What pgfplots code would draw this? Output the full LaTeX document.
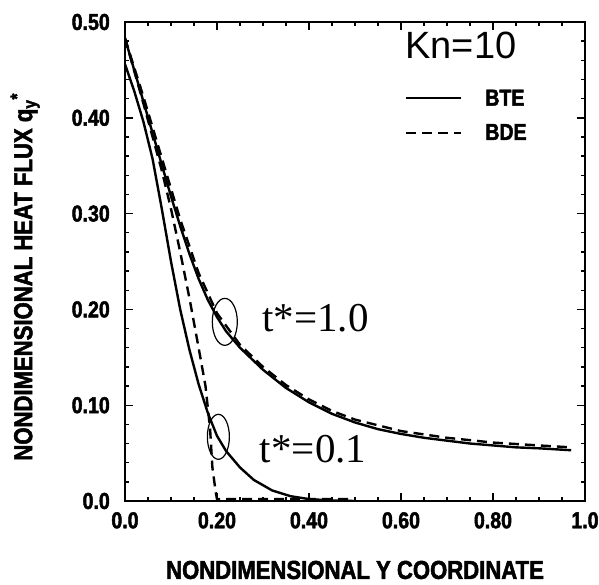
\documentclass[border=0pt]{standalone}
\usepackage{pgfplots}
\pgfplotsset{compat=1.18}
\usepackage{fontspec}
\setmainfont{Liberation Sans}
\newfontfamily\cond[FakeStretch=0.85, BoldFeatures={FakeBold=2}]{Liberation Sans}
\newfontfamily\serifnum{Liberation Serif}

\pgfplotstableread{
x y
0 0.483
0.02 0.450
0.04 0.417
0.06 0.384
0.08 0.351
0.10 0.318
0.12 0.287
0.14 0.258
0.16 0.232
0.18 0.210
0.20 0.192
0.22 0.177
0.25 0.160
0.30 0.137
0.35 0.118
0.40 0.103
0.45 0.091
0.50 0.082
0.55 0.075
0.60 0.070
0.65 0.066
0.70 0.063
0.75 0.060
0.80 0.058
0.85 0.056
0.90 0.055
0.97 0.053
}\bteone

\pgfplotstableread{
x y
0 0.483
0.04 0.422
0.08 0.358
0.12 0.294
0.16 0.238
0.20 0.196
0.25 0.163
0.30 0.140
0.35 0.121
0.40 0.106
0.45 0.094
0.50 0.085
0.60 0.073
0.70 0.066
0.80 0.061
0.90 0.058
0.97 0.056
}\bdeone

\pgfplotstableread{
x y
0 0.456
0.02 0.428
0.04 0.396
0.06 0.357
0.08 0.305
0.10 0.250
0.12 0.200
0.14 0.158
0.16 0.122
0.18 0.092
0.20 0.068
0.22 0.052
0.25 0.035
0.28 0.022
0.32 0.011
0.36 0.005
0.40 0.002
0.45 0.0005
0.50 0.0
}\btezero

\pgfplotstableread{
x y
0 0.483
0.04 0.415
0.08 0.345
0.10 0.305
0.12 0.260
0.14 0.212
0.16 0.160
0.175 0.120
0.185 0.075
0.19 0.035
0.197 0.010
0.20 0.002
0.50 0.002
}\bdezero

\begin{document}
\begin{tikzpicture}
\useasboundingbox (-125pt,-83pt) rectangle (474pt,501pt);
\begin{axis}[
  at={(0pt,0pt)}, anchor=south west,
  scale only axis, width=460pt, height=479pt,
  xmin=0, xmax=1, ymin=0, ymax=0.5,
  xtick={0,0.2,0.4,0.6,0.8,1.0},
  xticklabels={0.0,0.20,0.40,0.60,0.80,1.0},
  ytick={0,0.1,0.2,0.3,0.4,0.5},
  yticklabels={0.0,0.10,0.20,0.30,0.40,0.50},
  minor x tick num=3, minor y tick num=4,
  tick align=inside,
  major tick length=8pt, minor tick length=4pt,
  axis line style={line width=2pt},
  every tick/.style={black, line width=1.4pt},
  ticklabel style={font=\cond\bfseries\fontsize{23}{23}\selectfont},
  xticklabel style={inner sep=0pt, yshift=-11pt},
  yticklabel style={inner sep=0pt, xshift=-15pt},
  every axis x label/.style={at={(axis description cs:0.5,-0.144)}, anchor=center},
  every axis y label/.style={at={(axis description cs:-0.217,0.468)}, rotate=90, anchor=center},
  label style={font=\cond\bfseries\fontsize{26}{26}\selectfont},
  xlabel={NONDIMENSIONAL Y COORDINATE},
  ylabel={NONDIMENSIONAL HEAT FLUX q\textsubscript{y}\textsuperscript{*}},
  legend image code/.code={\draw[#1] (0pt,0pt) -- (55pt,0pt);},
  legend style={at={(axis cs:0.609,0.4295)}, anchor=north west, draw=none, fill=none,
    inner sep=0pt, row sep=17pt, font=\cond\bfseries\fontsize{23}{23}\selectfont,
    nodes={inner sep=0pt},
    /tikz/every odd column/.append style={column sep=23pt}},
  legend cell align=left,
]
\addlegendimage{black, line width=2pt}
\addlegendentry{BTE}
\addlegendimage{black, line width=2pt, dash pattern=on 10pt off 6pt}
\addlegendentry{BDE}

\addplot[black, line width=2.4pt, forget plot] table[x=x,y=y] {\bteone};
\addplot[black, line width=2.4pt, dash pattern=on 10pt off 6pt, forget plot] table[x=x,y=y] {\bdeone};
\addplot[black, line width=2.4pt, forget plot] table[x=x,y=y] {\btezero};
\addplot[black, line width=2.4pt, dash pattern=on 10pt off 6pt, forget plot] table[x=x,y=y] {\bdezero};

\draw[line width=1.2pt] (axis cs:0.217,0.187) ellipse [x radius=12.5pt, y radius=23.5pt];
\draw[line width=1.2pt] (axis cs:0.203,0.067) ellipse [x radius=11pt, y radius=22.5pt];

\node[anchor=base west, inner sep=0pt, font=\serifnum\fontsize{41}{41}\selectfont] at (axis cs:0.298,0.177) {t*=1.0};
\node[anchor=base west, inner sep=0pt, font=\serifnum\fontsize{41}{41}\selectfont] at (axis cs:0.293,0.040) {t*=0.1};
\node[anchor=base west, inner sep=0pt, font=\fontsize{38}{38}\selectfont] at (axis cs:0.609,0.462) {Kn=10};
\end{axis}
\end{tikzpicture}
\end{document}
